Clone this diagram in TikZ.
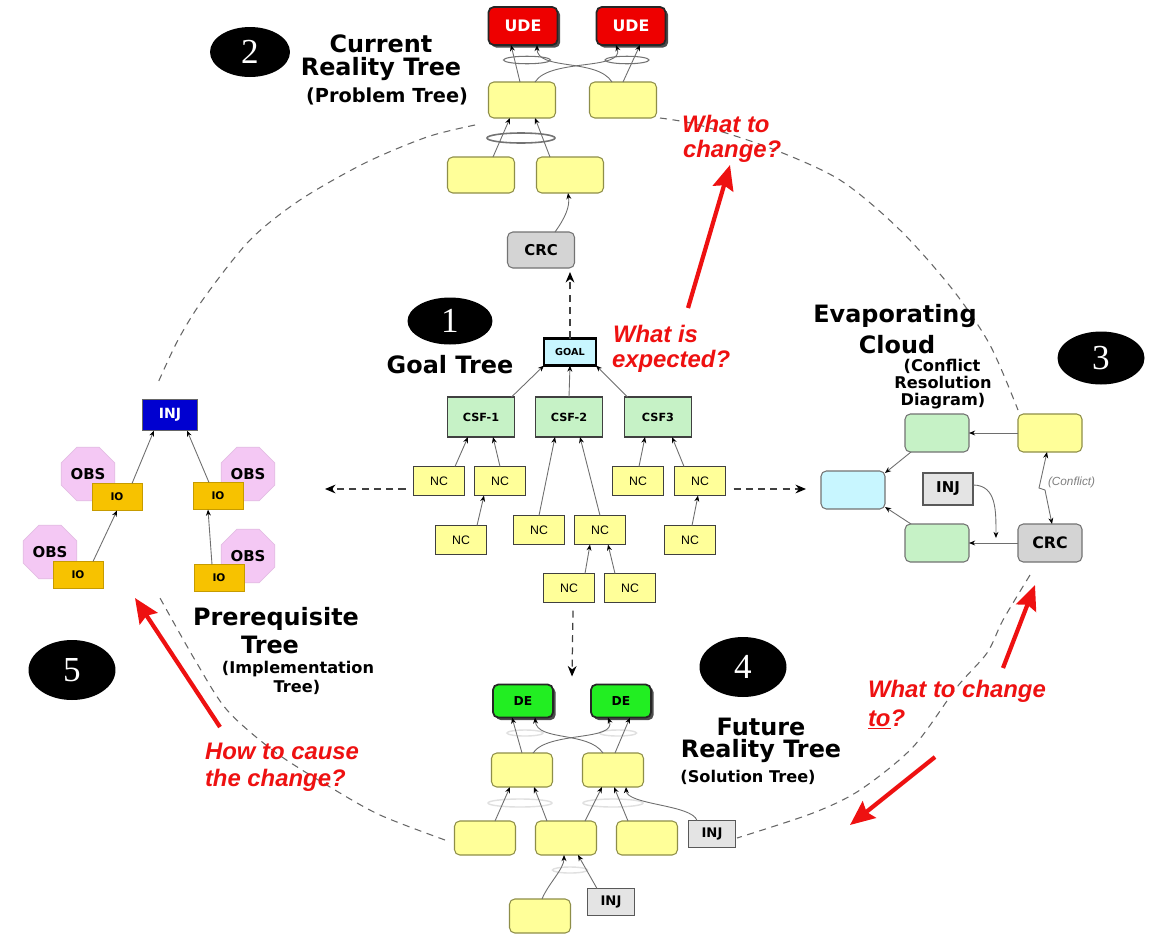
\documentclass[tikz,border=0pt]{standalone}
\usepackage{fontspec}
\setmainfont{Liberation Sans}
\newfontfamily\dvfont{DejaVu Sans}
\newfontfamily\numfont{Liberation Serif}
\usetikzlibrary{shapes.geometric,arrows.meta,calc,shadows}

\definecolor{yel}{HTML}{FFFF99}
\definecolor{yelb}{HTML}{8E8E48}
\definecolor{lgreen}{HTML}{C6F2C6}
\definecolor{lcyan}{HTML}{C8F6FF}
\definecolor{udered}{HTML}{EE0000}
\definecolor{degreen}{HTML}{22EE22}
\definecolor{crcgray}{HTML}{D4D4D4}
\definecolor{injgray}{HTML}{E4E4E4}
\definecolor{ioorange}{HTML}{F7C200}
\definecolor{obspink}{HTML}{F4C8F4}
\definecolor{injblue}{HTML}{0000D0}
\definecolor{qred}{HTML}{EE1111}
\definecolor{lineg}{HTML}{6E6E6E}

\newcommand\ttlfont{\dvfont\bfseries\fontsize{13.6}{16}\selectfont}
\newcommand\subttlfont{\dvfont\bfseries\fontsize{9.2}{11}\selectfont}
\newcommand\qfont{\color{qred}\bfseries\itshape\fontsize{13.6}{16}\selectfont}

\begin{document}
\begin{tikzpicture}[x=0.02cm,y=-0.02cm,
  every node/.style={inner sep=0pt, outer sep=0pt},
  yb/.style={draw=yelb, fill=yel, rounded corners=3pt, line width=0.6pt},
  crtbox/.style={yb, minimum width=1.34cm, minimum height=0.72cm},
  frtbox/.style={yb, minimum width=1.22cm, minimum height=0.68cm},
  ecbox/.style={draw=black!55, rounded corners=3pt, line width=0.6pt, minimum width=1.28cm, minimum height=0.76cm},
  udebox/.style={draw=black!85, fill=udered, rounded corners=3pt, line width=1pt,
     minimum width=1.38cm, minimum height=0.76cm,
     drop shadow={shadow xshift=1.5pt, shadow yshift=-1.5pt, opacity=0.7, fill=black},
     text=white, font=\dvfont\bfseries\fontsize{9}{10}\selectfont},
  debox/.style={draw=black!85, fill=degreen, rounded corners=3pt, line width=1pt,
     minimum width=1.2cm, minimum height=0.66cm,
     drop shadow={shadow xshift=1.5pt, shadow yshift=-1.5pt, opacity=0.7, fill=black},
     font=\dvfont\bfseries\fontsize{7}{8}\selectfont},
  crcbox/.style={draw=black!55, fill=crcgray, rounded corners=3pt, line width=0.6pt,
     minimum width=1.34cm, minimum height=0.72cm, font=\dvfont\bfseries\fontsize{8.5}{9}\selectfont},
  andell/.style={ellipse, draw=black!55, line width=0.6pt},
  faintell/.style={ellipse, draw=black!12, line width=0.8pt},
  goalbox/.style={draw=black, line width=1.2pt, fill=lcyan, minimum width=1.04cm, minimum height=0.54cm,
     font=\dvfont\bfseries\fontsize{5.5}{6}\selectfont},
  csfbox/.style={draw=black!75, line width=0.6pt, fill=lgreen, minimum width=1.34cm, minimum height=0.8cm,
     font=\dvfont\bfseries\fontsize{6.4}{7}\selectfont},
  ncbox/.style={draw=black!75, line width=0.6pt, fill=yel, minimum width=1.02cm, minimum height=0.58cm,
     font=\fontsize{7}{8}\selectfont},
  injbox/.style={draw=black!65, line width=0.6pt, fill=injgray, font=\dvfont\bfseries\fontsize{7.5}{8}\selectfont},
  pinjbox/.style={draw=black!60, line width=0.6pt, fill=injblue, text=white, minimum width=1.1cm, minimum height=0.62cm,
     font=\dvfont\bfseries\fontsize{8}{9}\selectfont},
  iobox/.style={draw=ioorange!80!black, line width=0.5pt, fill=ioorange, minimum width=1.0cm, minimum height=0.54cm,
     font=\dvfont\bfseries\fontsize{6}{7}\selectfont},
  obsoct/.style={regular polygon, regular polygon sides=8, minimum size=1.16cm, fill=obspink, draw=obspink!85!gray,
     line width=0.4pt, font=\dvfont\bfseries\fontsize{8.5}{9}\selectfont},
  numell/.style={ellipse, fill=black, text=white, font=\numfont\fontsize{20}{20}\selectfont},
  conn/.style={draw=lineg, line width=0.5pt, -{Stealth[length=3.5pt,width=2.8pt,color=black]}},
  bconn/.style={draw=lineg, line width=0.5pt, {Stealth[length=3.5pt,width=2.8pt,color=black]}-{Stealth[length=3.5pt,width=2.8pt,color=black]}},
  dconn/.style={draw=black!75, line width=0.7pt, dash pattern=on 4pt off 3pt, -{Stealth[length=6pt,width=5pt,color=black]}},
  circdash/.style={draw=black!60, line width=0.6pt, dash pattern=on 4pt off 3.2pt},
  redarr/.style={draw=qred, line width=2.4pt, -{Stealth[length=14pt,width=12pt,inset=2pt]}},
  ttl/.style={font=\ttlfont, anchor=base},
  sttl/.style={font=\subttlfont, anchor=base},
  qtxt/.style={font=\qfont, anchor=base west}
]
\useasboundingbox (0,0) rectangle (1153,934);
\fill[white] (0,0) rectangle (1153,934);

% ---- dashed cycle ----
\draw[circdash] plot[smooth] coordinates {(475,125) (427,137) (365,163) (300,200) (250,240) (204,298) (178,340) (157,385)};
\draw[circdash] plot[smooth] coordinates {(660,118) (699,125) (770,148) (840,180) (900,230) (953,290) (990,345) (1018,410)};
\draw[circdash] plot[smooth] coordinates {(1030,575) (1003,620) (987,653) (957,687) (913,747) (860,790) (813,813) (737,838)};
\draw[circdash] plot[smooth] coordinates {(445,840) (380,815) (330,787) (275,752) (227,710) (195,660) (160,598)};

% ---- number badges ----
\node[numell, minimum width=1.7cm, minimum height=0.94cm] (n1) at (450,321) {1};
\node[numell, minimum width=1.6cm, minimum height=1.0cm] (n2) at (250,52) {2};
\node[numell, minimum width=1.74cm, minimum height=1.06cm] (n3) at (1101,358) {3};
\node[numell, minimum width=1.74cm, minimum height=1.2cm] (n4) at (743,667) {4};
\node[numell, minimum width=1.74cm, minimum height=1.2cm] (n5) at (72,670) {5};

% ---- titles ----
\node[ttl] (t2a) at (381,52) {Current};
\node[ttl] (t2b) at (381,75) {Reality Tree};
\node[font=\dvfont\bfseries\fontsize{11}{12}\selectfont, anchor=base] (t2c) at (387,102) {(Problem Tree)};
\node[ttl] (t1) at (450,373) {Goal Tree};
\node[ttl] (t3a) at (895,322) {Evaporating};
\node[ttl] (t3b) at (897,353) {Cloud};
\node[sttl] (t3c) at (942,371) {(Conflict};
\node[sttl] (t3d) at (943,388) {Resolution};
\node[sttl] (t3e) at (943,405) {Diagram)};
\node[ttl] (t5a) at (276,625) {Prerequisite};
\node[ttl] (t5b) at (270,653) {Tree};
\node[sttl] (t5c) at (298,673) {(Implementation};
\node[sttl] (t5d) at (297,692) {Tree)};
\node[ttl] (t4a) at (761,735) {Future};
\node[ttl] (t4b) at (761,757) {Reality Tree};
\node[sttl] (t4c) at (748,782) {(Solution Tree)};

% ---- red questions ----
\node[qtxt] (q1a) at (682,132) {What to};
\node[qtxt] (q1b) at (683,157) {change?};
\node[qtxt] (q2a) at (613,342) {What is};
\node[qtxt] (q2b) at (612,367) {expected?};
\node[qtxt] (q3a) at (868,697) {What to change};
\node[qtxt] (q3b) at (868,726) {\underline{to}?};
\node[qtxt] (q4a) at (205,759) {How to cause};
\node[qtxt] (q4b) at (205,786) {the change?};

% ---- red arrows ----
\coordinate (r1s) at (688,308); \coordinate (r1e) at (730,165);
\coordinate (r2s) at (1003,668); \coordinate (r2e) at (1035,585);
\coordinate (r3s) at (935,757); \coordinate (r3e) at (850,825);
\coordinate (r4s) at (220,727); \coordinate (r4e) at (135,598);
\draw[redarr] (r1s) -- (r1e);
\draw[redarr] (r2s) -- (r2e);
\draw[redarr] (r3s) -- (r3e);
\draw[redarr] (r4s) -- (r4e);

% ---- Current Reality Tree ----
\node[andell, minimum width=0.94cm, minimum height=0.15cm] (e1) at (527,60) {};
\node[andell, minimum width=0.88cm, minimum height=0.15cm] (e2) at (627,60) {};
\node[andell, minimum width=1.36cm, minimum height=0.2cm, line width=0.9pt] (e3) at (521,138) {};
\node[udebox] (ude1) at (523,26) {UDE};
\node[udebox] (ude2) at (631,26) {UDE};
\node[crtbox] (y1) at (522,100) {};
\node[crtbox] (y2) at (623,100) {};
\node[crtbox] (y3) at (481,175) {};
\node[crtbox] (y4) at (570,175) {};
\node[crcbox] (crc) at (541,250) {CRC};
\draw[conn] ($(y1.north)+(-2,0)$) -- ($(ude1.south)+(-12,0)$);
\draw[conn] (y2.north) -- ($(ude2.south)+(9,0)$);
\draw[conn] ($(y1.north)+(13,0)$) .. controls ($(y1.north)+(28,-24)$) and ($(ude2.south)+(-6,26)$) .. ($(ude2.south)+(-15,0)$);
\draw[conn] ($(y2.north)+(-11,0)$) .. controls ($(y2.north)+(-26,-24)$) and ($(ude1.south)+(14,26)$) .. ($(ude1.south)+(14,0)$);
\draw[conn] ($(y3.north)+(12,0)$) -- ($(y1.south)+(-12,0)$);
\draw[conn] ($(y4.north)+(-20,0)$) -- ($(y1.south)+(13,0)$);
\draw[conn] ($(crc.north)+(14,0)$) .. controls ($(crc.north)+(24,-14)$) and ($(y4.south)+(0,14)$) .. ($(y4.south)+(-2,0)$);

% ---- Goal Tree ----
\node[goalbox] (goal) at (570,352) {GOAL};
\node[csfbox] (csf1) at (481,417) {CSF-1};
\node[csfbox] (csf2) at (569,417) {CSF-2};
\node[csfbox] (csf3) at (658,417) {CSF3};
\node[ncbox] (nc1) at (439,481) {NC};
\node[ncbox] (nc2) at (500,481) {NC};
\node[ncbox] (nc3) at (461,540) {NC};
\node[ncbox] (nc4) at (539,530) {NC};
\node[ncbox] (nc5) at (600,530) {NC};
\node[ncbox] (nc6) at (638,481) {NC};
\node[ncbox] (nc7) at (700,481) {NC};
\node[ncbox] (nc8) at (690,540) {NC};
\node[ncbox] (nc9) at (569,588) {NC};
\node[ncbox] (nc10) at (630,588) {NC};
\draw[conn] ($(csf1.north east)+(-3,0)$) -- (goal.south west);
\draw[conn] (csf2.north) -- (goal.south);
\draw[conn] ($(csf3.north west)+(3,0)$) -- (goal.south east);
\draw[conn] ($(nc1.north)+(16,0)$) -- ($(csf1.south)+(-13,0)$);
\draw[conn] (nc2.north) -- ($(csf1.south)+(12,0)$);
\draw[conn] ($(nc3.north)+(16,0)$) -- ($(nc2.south)+(-16,0)$);
\draw[conn] (nc4.north) -- ($(csf2.south)+(-14,0)$);
\draw[conn] (nc5.north) -- ($(csf2.south)+(11,0)$);
\draw[conn] ($(nc9.north)+(16,0)$) -- ($(nc5.south)+(-10,0)$);
\draw[conn] ($(nc10.north)+(-15,0)$) -- ($(nc5.south)+(8,0)$);
\draw[conn] ($(nc6.north)+(1,0)$) -- ($(csf3.south)+(-13,0)$);
\draw[conn] ($(nc7.north)+(-16,0)$) -- ($(csf3.south)+(14,0)$);
\draw[conn] ($(nc8.north)+(2,0)$) -- ($(nc7.south)+(-2,0)$);

% ---- Evaporating Cloud ----
\node[ecbox, fill=yel, draw=yelb] (ecy) at (1050,433) {};
\node[ecbox, fill=lgreen] (ecg1) at (937,433) {};
\node[ecbox, fill=lcyan] (ecc) at (853,490) {};
\node[ecbox, fill=lgreen] (ecg2) at (937,543) {};
\node[crcbox, minimum width=1.28cm, minimum height=0.76cm, font=\dvfont\bfseries\fontsize{9}{10}\selectfont] (eccrc) at (1050,543) {CRC};
\node[injbox, minimum width=1.0cm, minimum height=0.64cm, font=\dvfont\bfseries\fontsize{8.5}{9}\selectfont] (ecinj) at (948,489) {INJ};
\draw[conn] (ecy.west) -- (ecg1.east);
\draw[conn] ($(ecg1.south west)+(6,0)$) -- ($(ecc.north east)+(0,2)$);
\draw[conn] ($(ecg2.north west)+(6,0)$) -- ($(ecc.south east)+(0,-2)$);
\draw[conn] (eccrc.west) -- (ecg2.east);
\coordinate (ecjoin) at ($(ecg2.east)!.55!(eccrc.west)+(0,-5)$);
\draw[conn] ($(ecinj.east)+(0,-4)$) .. controls ($(ecinj.east)+(24,-4)$) and ($(ecjoin)+(0,-26)$) .. (ecjoin);
\draw[bconn] ($(ecy.south)+(-3,0)$) -- ($(ecy.south)+(-11,36)$) -- ($(eccrc.north)+(-5,-34)$) -- ($(eccrc.north)+(2,0)$);
\node[anchor=base west, text=black!50, font=\itshape\fontsize{6.7}{7}\selectfont] (conf) at (1048,485) {(Conflict)};

% ---- Future Reality Tree ----
\node[faintell, minimum width=0.72cm, minimum height=0.12cm] (fea) at (525,733) {};
\node[faintell, minimum width=0.74cm, minimum height=0.12cm] (feb) at (618,733) {};
\node[faintell, minimum width=1.28cm, minimum height=0.16cm] (fec) at (520,803) {};
\node[faintell, minimum width=1.2cm, minimum height=0.16cm] (fed) at (613,803) {};
\node[faintell, minimum width=0.7cm, minimum height=0.12cm] (fee) at (570,870) {};
\node[debox] (de1) at (523,701) {DE};
\node[debox] (de2) at (621,701) {DE};
\node[frtbox] (f1) at (522,770) {};
\node[frtbox] (f2) at (613,770) {};
\node[frtbox] (f3) at (485,838) {};
\node[frtbox] (f4) at (566,838) {};
\node[frtbox] (f5) at (647,838) {};
\node[frtbox] (f6) at (540,916) {};
\node[injbox, minimum width=0.94cm, minimum height=0.54cm] (injA) at (712,834) {INJ};
\node[injbox, minimum width=0.94cm, minimum height=0.54cm] (injB) at (611,902) {INJ};
\draw[conn] (f1.north) -- ($(de1.south)+(-11,0)$);
\draw[conn] ($(f1.north)+(11,0)$) .. controls ($(f1.north)+(26,-22)$) and ($(de2.south)+(-4,24)$) .. ($(de2.south)+(-13,0)$);
\draw[conn] ($(f2.north)+(-10,0)$) .. controls ($(f2.north)+(-25,-22)$) and ($(de1.south)+(14,24)$) .. ($(de1.south)+(12,0)$);
\draw[conn] ($(f2.north)+(2,0)$) -- ($(de2.south)+(9,0)$);
\draw[conn] ($(f3.north)+(10,0)$) -- ($(f1.south)+(-12,0)$);
\draw[conn] ($(f4.north)+(-19,0)$) -- ($(f1.south)+(12,0)$);
\draw[conn] ($(f4.north)+(19,0)$) -- ($(f2.south)+(-11,0)$);
\draw[conn] ($(f5.north)+(-19,0)$) -- ($(f2.south)+(1,0)$);
\draw[conn] ($(injA.north)+(-15,0)$) .. controls ($(injA.north)+(-20,-16)$) and ($(f2.south)+(14,18)$) .. ($(f2.south)+(13,0)$);
\draw[conn] ($(f6.north)+(2,0)$) .. controls ($(f6.north)+(8,-15)$) and ($(f4.south)+(-2,14)$) .. ($(f4.south)+(-2,0)$);
\draw[conn] ($(injB.north)+(-14,0)$) -- ($(f4.south)+(12,0)$);

% ---- Prerequisite Tree ----
\node[pinjbox] (pinj) at (170,415) {INJ};
\node[obsoct] (obs1) at (88,474) {OBS};
\node[obsoct] (obs2) at (248,474) {OBS};
\node[obsoct] (obs3) at (50,552) {OBS};
\node[obsoct] (obs4) at (248,556) {OBS};
\node[iobox] (io1) at (117,497) {IO};
\node[iobox] (io2) at (218,496) {IO};
\node[iobox] (io3) at (78,575) {IO};
\node[iobox] (io4) at (219,578) {IO};
\draw[conn] ($(io1.north)+(15,0)$) -- ($(pinj.south)+(-16,0)$);
\draw[conn] ($(io2.north)+(-9,0)$) -- ($(pinj.south)+(17,0)$);
\draw[conn] ($(io3.north)+(15,0)$) -- (io1.south);
\draw[conn] ($(io4.north)+(-7,0)$) -- ($(io2.south)+(-10,0)$);

% ---- dashed links from the Goal Tree ----
\coordinate (crcb) at (goal.north |- crc.south);
\coordinate (lefttip) at (325,489);
\coordinate (righttip) at (806,489);
\draw[dconn] (goal.north) -- ($(crcb)+(0,4)$);
\draw[dconn] ($(nc1.west)+(-8,8)$) -- (lefttip);
\draw[dconn] ($(nc7.east)+(8,8)$) -- (righttip);
\draw[dconn] ($(nc9.south)+(4,8)$) -- ($(de1.north)!.5!(de2.north)+(0,-8)$);
\end{tikzpicture}
\end{document}
